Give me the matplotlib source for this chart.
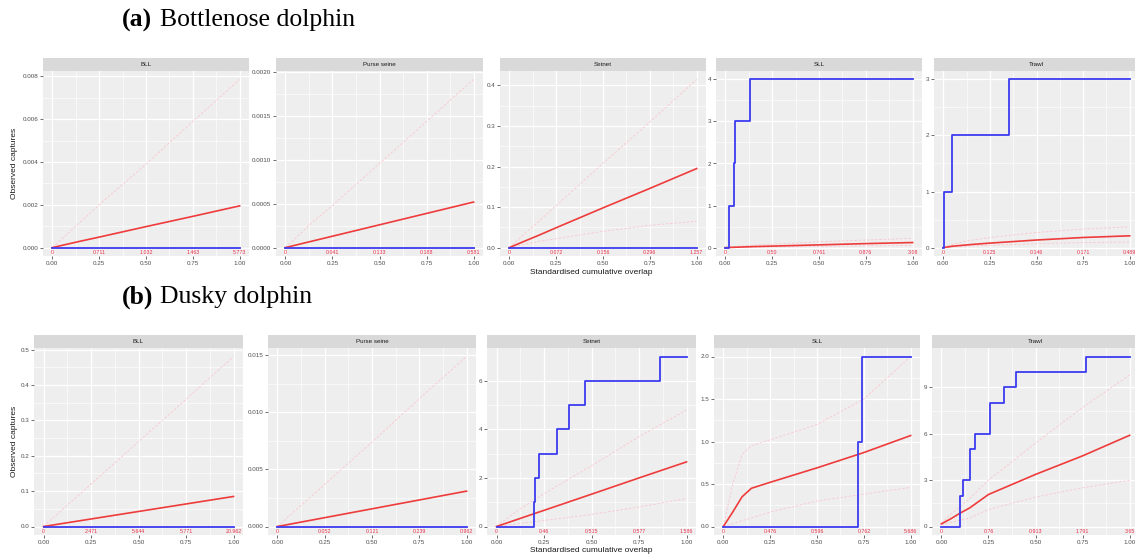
import matplotlib.pyplot as plt
import numpy as np
from matplotlib.ticker import FixedLocator

# ---- data ----
gears = ["BLL", "Purse seine", "Setnet", "SLL", "Trawl"]
grid_x = [0, 0.25, 0.5, 0.75, 1.0]
curve_x = [0, 0.05, 0.1, 0.15, 0.25, 0.5, 0.75, 1.0]

# (a) Bottlenose dolphin
a_expected = [
    [0, 0.0001, 0.0002, 0.0003, 0.00049, 0.00098, 0.00146, 0.00195],
    [0, 0.000026, 0.000052, 0.000078, 0.00013, 0.00026, 0.00039, 0.00052],
    [0, 0.0098, 0.0195, 0.029, 0.049, 0.098, 0.146, 0.195],
    [0, 0.008, 0.016, 0.024, 0.035, 0.065, 0.095, 0.12],
    [0, 0.025, 0.04, 0.055, 0.08, 0.135, 0.18, 0.21],
]
a_upper = [
    [0, 0.0004, 0.0008, 0.0012, 0.002, 0.0039, 0.0059, 0.00786],
    [0, 0.0001, 0.0002, 0.0003, 0.00048, 0.00096, 0.00144, 0.00192],
    [0, 0.021, 0.042, 0.062, 0.104, 0.208, 0.31, 0.415],
    [0, 0.02, 0.04, 0.06, 0.08, 0.14, 0.18, 0.22],
    [0, 0.06, 0.1, 0.13, 0.18, 0.27, 0.33, 0.37],
]
a_lower = [
    [0, 0, 0, 0, 0, 0, 0, 0],
    [0, 0, 0, 0, 0, 0, 0, 0],
    [0, 0.005, 0.01, 0.015, 0.022, 0.04, 0.055, 0.065],
    [0, 0, 0.005, 0.01, 0.015, 0.03, 0.04, 0.05],
    [0, 0.01, 0.02, 0.03, 0.04, 0.07, 0.09, 0.1],
]
a_step_x = [
    [0, 1.0],
    [0, 1.0],
    [0, 1.0],
    [0, 0.02, 0.046, 0.052, 0.134, 1.0],
    [0, 0.005, 0.045, 0.35, 1.0],
]
a_step_y = [
    [0, 0],
    [0, 0],
    [0, 0],
    [0, 1, 2, 3, 4, 4],
    [0, 1, 2, 3, 3],
]
a_yticks = [
    [0, 0.002, 0.004, 0.006, 0.008],
    [0, 0.0005, 0.001, 0.0015, 0.002],
    [0, 0.1, 0.2, 0.3, 0.4],
    [0, 1, 2, 3, 4],
    [0, 1, 2, 3],
]
a_yfmt = ["{:.3f}", "{:.4f}", "{:.1f}", "{:.0f}", "{:.0f}"]
a_labels = [
    ["0", "0.711", "1.032", "1.463", "5.773"],
    ["0", "0.041", "0.133", "0.188", "0.581"],
    ["0", "0.072", "0.156", "0.296", "1.257"],
    ["0", "0.50", "0.761", "0.876", "3.08"],
    ["0", "0.125", "0.146", "0.171", "0.489"],
]

# (b) Dusky dolphin
b_expected = [
    [0, 0.00425, 0.0085, 0.01275, 0.02125, 0.0425, 0.06375, 0.085],
    [0, 0.000155, 0.00031, 0.000465, 0.000775, 0.00155, 0.002325, 0.0031],
    [0, 0.133, 0.266, 0.4, 0.665, 1.33, 2.0, 2.66],
    [0, 0.17, 0.35, 0.45, 0.52, 0.69, 0.87, 1.07],
    [0.17, 0.5, 0.87, 1.2, 2.07, 3.37, 4.57, 5.9],
]
b_upper = [
    [0, 0.024, 0.048, 0.072, 0.12, 0.24, 0.36, 0.481],
    [0, 0.00075, 0.0015, 0.0022, 0.0037, 0.0074, 0.0112, 0.0149],
    [0, 0.3, 0.6, 0.85, 1.35, 2.5, 3.7, 4.8],
    [0, 0.5, 0.85, 0.95, 1.02, 1.2, 1.5, 2.0],
    [0.2, 0.8, 1.3, 1.8, 3.0, 5.4, 7.7, 9.8],
]
b_lower = [
    [0, 0, 0, 0, 0, 0, 0, 0],
    [0, 0, 0, 0, 0, 0, 0, 0],
    [0, 0.05, 0.1, 0.15, 0.25, 0.5, 0.8, 1.15],
    [0, 0.03, 0.07, 0.1, 0.17, 0.3, 0.38, 0.46],
    [0.1, 0.25, 0.4, 0.55, 1.1, 1.9, 2.5, 3.0],
]
b_step_x = [
    [0, 1.0],
    [0, 1.0],
    [0, 0.198, 0.205, 0.223, 0.321, 0.379, 0.465, 0.86, 1.0],
    [0, 0.72, 0.74, 1.0],
    [0, 0.10, 0.115, 0.154, 0.179, 0.26, 0.333, 0.395, 0.766, 1.0],
]
b_step_y = [
    [0, 0],
    [0, 0],
    [0, 1, 2, 3, 4, 5, 6, 7, 7],
    [0, 1, 2, 2],
    [0, 2, 3, 5, 6, 8, 9, 10, 11, 11],
]
b_yticks = [
    [0, 0.1, 0.2, 0.3, 0.4, 0.5],
    [0, 0.005, 0.01, 0.015],
    [0, 2, 4, 6],
    [0, 0.5, 1.0, 1.5, 2.0],
    [0, 3, 6, 9],
]
b_yfmt = ["{:.1f}", "{:.3f}", "{:.0f}", "{:.1f}", "{:.0f}"]
b_labels = [
    ["0", "2.471", "5.644", "5.771", "20.962"],
    ["0", "0.052", "0.121", "0.239", "0.962"],
    ["0", "0.46", "0.515", "0.577", "1.586"],
    ["0", "0.476", "0.596", "0.762", "5.686"],
    ["0", "0.76", "0.913", "1.791", "3.65"],
]

# ---- layout (pixels) ----
W, H = 1135, 557
fig = plt.figure(figsize=(W / 100, H / 100), dpi=100)
fig.patch.set_facecolor("white")
plt.rcParams["font.family"] = ["Liberation Sans", "DejaVu Sans"]

a_left = [43, 276, 500, 716, 934]
a_right = [249, 483, 706, 922, 1139]
b_left = [34, 268, 487, 714, 932]
b_right = [243, 476, 696, 920, 1139]


def px_axes(l, t, r, b):
    return fig.add_axes([l / W, 1 - b / H, (r - l) / W, (b - t) / H])


def draw_panel(l, r, top, bot, gear, exp, up, lo, sx, sy, yt, fmt, labs):
    strip = px_axes(l, top - 13, r, top)
    strip.set_facecolor("#d9d9d9")
    strip.set_xticks([])
    strip.set_yticks([])
    for s in strip.spines.values():
        s.set_visible(False)
    strip.text(0.5, 0.5, gear, ha="center", va="center", fontsize=4.5, color="#1a1a1a")

    ax = px_axes(l, top, r, bot)
    ax.set_facecolor("#eeeeee")
    for s in ax.spines.values():
        s.set_visible(False)
    ax.plot(curve_x, up, color="#fac6ce", lw=0.6, ls=(0, (3, 2)))
    ax.plot(curve_x, lo, color="#fac6ce", lw=0.6, ls=(0, (3, 2)))
    ax.plot(curve_x, exp, color="#ee3b3b", lw=1.2)
    ax.step(sx, sy, where="post", color="#3b3bf0", lw=1.3)

    vals = np.concatenate([exp, up, lo, sy])
    ymin, ymax = min(vals.min(), 0), vals.max()
    rng = ymax - ymin
    ax.set_ylim(ymin - 0.05 * rng, ymax + 0.05 * rng)
    ax.set_xlim(-0.05, 1.05)

    ax.set_xticks(grid_x)
    ax.set_xticklabels(["0.00", "0.25", "0.50", "0.75", "1.00"])
    ax.set_yticks(yt)
    ax.set_yticklabels([fmt.format(v) for v in yt])
    ax.xaxis.set_minor_locator(FixedLocator([0.125, 0.375, 0.625, 0.875]))
    ax.yaxis.set_minor_locator(FixedLocator([(a + b) / 2 for a, b in zip(yt[:-1], yt[1:])]))
    ax.grid(which="major", color="white", lw=0.9)
    ax.grid(which="minor", color="white", lw=0.45)
    ax.set_axisbelow(True)
    ax.tick_params(which="major", length=2, width=0.5, color="#333333",
                   labelsize=4.5, labelcolor="#4d4d4d", pad=1.5)
    ax.tick_params(which="minor", length=0)

    for x, t in zip(grid_x, labs):
        ax.text(x, ymin - 0.03 * rng, t, ha="center", va="center",
                fontsize=3.8, color="#e8304a")
    return ax


for i in range(5):
    draw_panel(a_left[i], a_right[i], 71, 256, gears[i], a_expected[i], a_upper[i],
               a_lower[i], a_step_x[i], a_step_y[i], a_yticks[i], a_yfmt[i], a_labels[i])
    draw_panel(b_left[i], b_right[i], 348, 535, gears[i], b_expected[i], b_upper[i],
               b_lower[i], b_step_x[i], b_step_y[i], b_yticks[i], b_yfmt[i], b_labels[i])

# titles
serif = ["Liberation Serif", "DejaVu Serif"]
fig.text(122 / W, 1 - 20 / H, "(a)", family=serif, fontweight="bold", fontsize=18.5, va="center")
fig.text(160 / W, 1 - 20 / H, "Bottlenose dolphin", family=serif, fontsize=18.5, va="center")
fig.text(122 / W, 1 - 297 / H, "(b)", family=serif, fontweight="bold", fontsize=18.5, va="center")
fig.text(160 / W, 1 - 297 / H, "Dusky dolphin", family=serif, fontsize=18.5, va="center")

# axis titles
for yc in [163, 441]:
    fig.text(15 / W, 1 - yc / H, "Observed captures", rotation=90, ha="center",
             va="center", fontsize=6, color="#1a1a1a")
for yc in [272, 551]:
    fig.text(591 / W, 1 - yc / H, "Standardised cumulative overlap", ha="center",
             va="center", fontsize=6, color="#1a1a1a")

fig.savefig("out.png", dpi=100)
